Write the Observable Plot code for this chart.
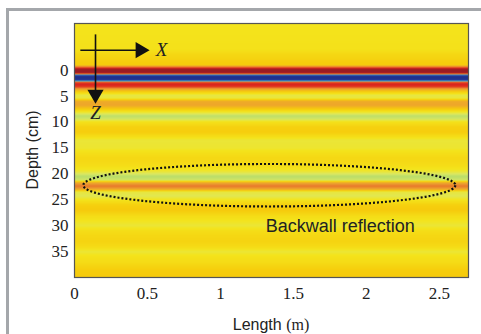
<!DOCTYPE html>
<html><head><meta charset="utf-8">
<script src="https://cdn.jsdelivr.net/npm/d3@7"></script>
<script src="https://cdn.jsdelivr.net/npm/@observablehq/plot@0.6"></script>
<style>
body{margin:0;background:#fff;}
#wrap{position:relative;width:481px;height:334px;overflow:hidden;background:#fff;}
#panel{position:absolute;left:6px;top:8px;width:520px;height:400px;border-left:3px solid #a4a7ab;border-top:3px solid #a4a7ab;}
#chart{position:absolute;left:0;top:0;}
</style></head><body><div id="wrap"><div id="panel"></div><div id="chart"></div></div>
<script>
// depth profile of the B-scan (cm) and its normalised amplitude
const depths =     [-9, -4, -3, -1, -0.6, -0.2, 0.5, 0.8, 1.0, 1.5, 1.9, 2.1, 2.3, 2.7, 3.2, 3.6, 4.2, 4.8, 5.4, 6.0, 6.8, 7.5, 8.0, 8.8, 9.4, 10, 11, 12, 12.8, 13.5, 15, 16, 17, 18.5, 19.5, 20.5, 21.2, 21.7, 22.4, 23, 23.5, 24.3, 25, 26, 27, 28, 29, 30, 31, 32, 33, 34, 35, 36, 37, 38.5, 40];
const amplitudes = [0, 0.02, 0.08, 0.15, 0.5, 1.0, 1.0, 0.3, -0.9, -1.0, -0.9, -0.35, 0.6, 0.8, 0.7, 0.35, 0.12, -0.06, -0.04, 0.3, 0.32, 0.15, 0, -0.16, -0.12, 0.02, 0.12, 0.14, 0.04, -0.04, -0.03, 0.03, 0.08, 0.04, -0.03, -0.17, -0.12, 0.3, 0.5, 0.3, -0.05, -0.08, 0, 0.12, 0.16, 0.06, 0, -0.04, 0.04, 0.08, 0.1, 0.06, -0.04, 0.02, 0.05, 0.14, 0.16];
const xDomain = [0, 2.7];
const yDomain = [-9, 40];
const xTicks = [0, 0.5, 1, 1.5, 2, 2.5];
const yTicks = [0, 5, 10, 15, 20, 25, 30, 35];
const colorStops = [-1, -0.6, -0.35, -0.2, -0.1, 0, 0.15, 0.35, 0.55, 0.75, 1];
const colorRange = ["#1f2f8c", "#2e5cc0", "#48b8d8", "#a8d870", "#dce860", "#f4e41c", "#f6cc0c", "#eca030", "#e86a28", "#e0281e", "#9c1c22"];
// annotations
const backwall = {cx: 1.335, cy: 22.2, rx: 1.275, ry: 4.1};
const xArrow = {x1: 0.04, x2: 0.486, y: -3.85, label: "X"};
const zArrow = {x: 0.144, y1: -6.9, y2: 5.6, label: "Z"};
const noteText = {x: 1.31, y: 30.2, text: "Backwall reflection"};

const profile = d3.scaleLinear().domain(depths).range(amplitudes).clamp(true);
const ellipsePts = d3.range(0, 361, 3).map(a => ({
  x: backwall.cx + backwall.rx * Math.cos(a * Math.PI / 180),
  y: backwall.cy + backwall.ry * Math.sin(a * Math.PI / 180)
}));

const plot = Plot.plot({
  width: 481, height: 334,
  marginLeft: 74, marginRight: 13, marginTop: 23, marginBottom: 57,
  style: {fontFamily: "'Liberation Serif', serif", fontSize: "17px", color: "#222", background: "transparent"},
  x: {domain: xDomain, ticks: xTicks, tickFormat: d => String(d), tickSize: 0, tickPadding: 9, label: null},
  y: {domain: yDomain, reverse: true, ticks: yTicks, tickFormat: d => String(d), tickSize: 0, tickPadding: 6, label: null},
  color: {type: "linear", domain: colorStops, range: colorRange, clamp: true, interpolate: "rgb"},
  marks: [
    Plot.raster({x1: xDomain[0], x2: xDomain[1], y1: yDomain[0], y2: yDomain[1], fill: (x, y) => profile(y), pixelSize: 1, interpolate: null}),
    Plot.line(ellipsePts, {x: "x", y: "y", stroke: "#111", strokeWidth: 2.2, strokeDasharray: "2 2", strokeLinecap: "butt"}),
    Plot.link([xArrow], {x1: "x1", x2: d => d.x2 - 0.06, y1: "y", y2: "y", stroke: "#111", strokeWidth: 1.6}),
    Plot.dot([xArrow], {x: d => d.x2 - 0.035, y: "y", symbol: "triangle", r: 6, fill: "#111", stroke: null, rotate: 90}),
    Plot.link([zArrow], {x1: "x", x2: "x", y1: "y1", y2: d => d.y2 - 1.5, stroke: "#111", strokeWidth: 1.6}),
    Plot.dot([zArrow], {x: "x", y: d => d.y2 - 0.9, symbol: "triangle", r: 6, fill: "#111", stroke: null, rotate: 180}),
    Plot.text([xArrow], {x: d => d.x2 + 0.11, y: "y", text: "label", fontStyle: "italic", fontSize: 19, fill: "#222", fontFamily: "'Liberation Serif', serif"}),
    Plot.text([zArrow], {x: "x", y: d => d.y2 + 2.7, text: "label", fontStyle: "italic", fontSize: 19, fill: "#222", fontFamily: "'Liberation Serif', serif"}),
    Plot.text([noteText], {x: "x", y: "y", text: "text", textAnchor: "start", fontSize: 18, fill: "#222", fontFamily: "'Liberation Sans', Arial, sans-serif"}),
    Plot.frame({stroke: "#555", strokeWidth: 1.2})
  ]
});
document.getElementById("chart").appendChild(plot);

// axis titles
const svg = d3.select(plot);
const xr = plot.scale("x").range, yr = plot.scale("y").range;
const yt = svg.append("text")
  .attr("transform", `translate(38,${(yr[0] + yr[1]) / 2}) rotate(-90)`)
  .attr("text-anchor", "middle")
  .attr("font-family", "'Liberation Sans', Arial, sans-serif")
  .attr("font-size", 16).attr("fill", "#222");
yt.append("tspan").text("Depth (cm)");
const xt = svg.append("text")
  .attr("x", (xr[0] + xr[1]) / 2).attr("y", 330)
  .attr("text-anchor", "middle")
  .attr("font-size", 16).attr("fill", "#222");
xt.append("tspan").attr("font-family", "'Liberation Sans', Arial, sans-serif").text("Length ");
xt.append("tspan").attr("font-family", "'Liberation Serif', serif").text("(m)");
</script></body></html>
